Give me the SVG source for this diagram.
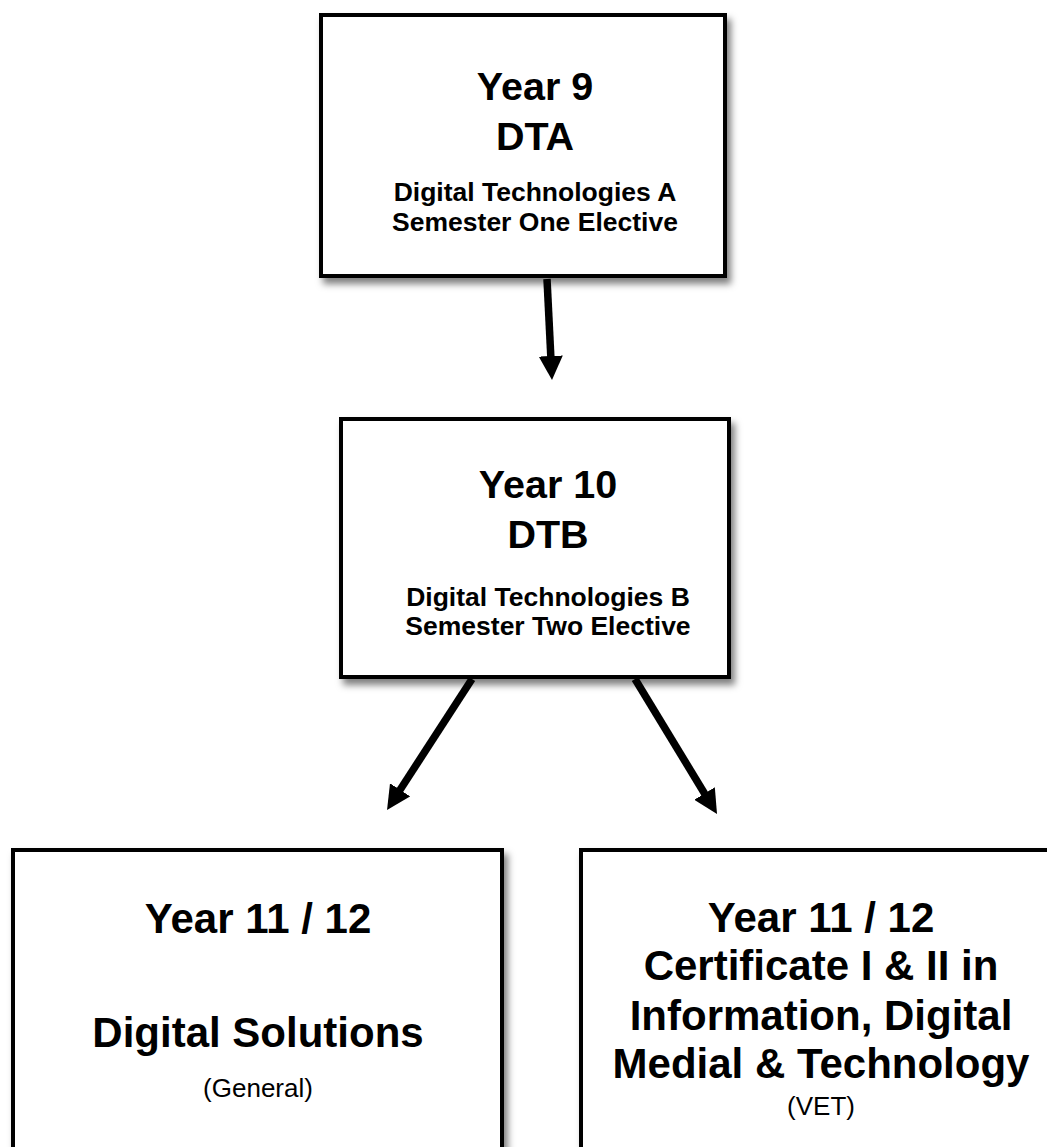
<svg xmlns="http://www.w3.org/2000/svg" width="1047" height="1147" viewBox="0 0 1047 1147">
<style>
.box{fill:#fff;stroke:#000;stroke-width:4;filter:url(#sh)}
.big{font-family:"Liberation Sans",Arial,sans-serif;font-weight:bold;font-size:39.5px;text-anchor:middle;fill:#000}
.big2{font-family:"Liberation Sans",Arial,sans-serif;font-weight:bold;font-size:42px;text-anchor:middle;fill:#000}
.sm{font-family:"Liberation Sans",Arial,sans-serif;font-weight:bold;font-size:26.5px;text-anchor:middle;fill:#000}
.reg{font-family:"Liberation Sans",Arial,sans-serif;font-size:26px;text-anchor:middle;fill:#000}
.arr{stroke:#000;stroke-width:7.5;fill:none;marker-end:url(#ah)}
</style>
<defs>
<filter id="sh" x="-5%" y="-5%" width="115%" height="115%">
<feDropShadow dx="4" dy="6" stdDeviation="3.5" flood-color="#000" flood-opacity="0.5"/>
</filter>
<marker id="ah" markerUnits="userSpaceOnUse" viewBox="0 0 24 24" refX="2" refY="12" markerWidth="24" markerHeight="24" orient="auto">
<path d="M0,0 L24,12 L0,24 Z" fill="#000"/>
</marker>
</defs>
<rect width="1047" height="1147" fill="#fff"/>
<g id="connectors">
<line class="arr" x1="547" y1="279" x2="550.9" y2="358"/>
<line class="arr" x1="472" y1="679" x2="399" y2="791.5"/>
<line class="arr" x1="635" y1="679" x2="705.6" y2="795.2"/>
</g>
<g id="year9">
<rect class="box" x="321" y="15" width="404" height="261"/>
<text class="big" x="535" y="100">Year 9</text>
<text class="big" x="535" y="150">DTA</text>
<text class="sm" x="535" y="201">Digital Technologies A</text>
<text class="sm" x="535" y="231">Semester One Elective</text>
</g>
<g id="year10">
<rect class="box" x="341" y="419" width="388" height="258"/>
<text class="big" x="548" y="498">Year 10</text>
<text class="big" x="548" y="548">DTB</text>
<text class="sm" x="548" y="606">Digital Technologies B</text>
<text class="sm" x="548" y="635">Semester Two Elective</text>
</g>
<g id="digital-solutions">
<rect class="box" x="13" y="850" width="489" height="400"/>
<text class="big2" x="258" y="933">Year 11 / 12</text>
<text class="big2" x="258" y="1047">Digital Solutions</text>
<text class="reg" x="258" y="1097">(General)</text>
</g>
<g id="certificate">
<rect class="box" x="581" y="850" width="500" height="400"/>
<text class="big2" x="821" y="932">Year 11 / 12</text>
<text class="big2" x="821" y="980">Certificate I &amp; II in</text>
<text class="big2" x="821" y="1030">Information, Digital</text>
<text class="big2" x="821" y="1078">Medial &amp; Technology</text>
<text class="reg" x="821" y="1115">(VET)</text>
</g>
</svg>
